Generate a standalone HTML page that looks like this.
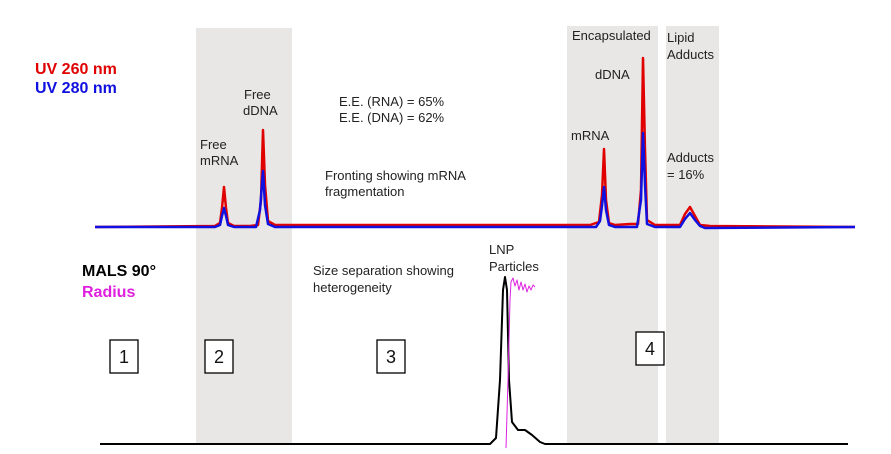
<!DOCTYPE html>
<html><head><style>
body{margin:0;background:#fff}
svg text{font-family:"Liberation Sans",sans-serif}
</style></head><body>
<svg width="891" height="449" viewBox="0 0 891 449" xmlns="http://www.w3.org/2000/svg">
<rect x="196" y="28" width="96" height="416" fill="#e8e7e6"/>
<rect x="567" y="26" width="91" height="418" fill="#e8e7e6"/>
<rect x="666" y="26" width="53" height="418" fill="#e8e7e6"/>
<g fill="none" stroke-linejoin="round">
<path d="M95 227 L215 226 L220 223 L222 208 L224 187 L226 208 L228 223 L234 226 L250 226 L258 225 L261 200 L263 130 L265 185 L268 221 L275 225 L590 225 L599 222 L602 195 L604 149 L606 200 L609 223 L615 225 L630 224 L638 224 L641 190 L643 58 L645 150 L647 220 L655 225 L680 225 L685 214 L690 207 L695 216 L700 225 L710 226 L855 227" stroke="#e00000" stroke-width="2.5"/>
<path d="M95 227 L215 227 L220 225 L222 216 L224 208 L226 216 L228 225 L234 227 L256 227 L260 210 L263 171 L265 205 L268 224 L275 227 L596 227 L600 221 L602 206 L604 187 L606 210 L609 225 L615 227 L637 227 L641 200 L643 133 L645 185 L647 224 L655 227 L680 227 L685 219 L690 213 L695 220 L700 226 L705 228 L855 227" stroke="#1010e0" stroke-width="2.5"/>
<path d="M100 444 L490 444 L496 438 L500 380 L503 290 L505 277 L507 290 L509 380 L512 422 L518 430 L525 430 L532 435 L540 442 L545 444 L848 444" stroke="#000" stroke-width="2"/>
<path d="M506 448 L508 380 L510 300 L511 282 L513 278 L515 286 L517 280 L519 290 L521 282 L523 290 L525 284 L527 292 L529 286 L531 290 L533 285 L535 287" stroke="#e020e0" stroke-width="1"/>
</g>
<text x="35" y="74" font-size="16" font-weight="bold" fill="#e00000">UV 260 nm</text>
<text x="35" y="93" font-size="16" font-weight="bold" fill="#1010e0">UV 280 nm</text>
<text x="82" y="276" font-size="16" font-weight="bold" fill="#000">MALS 90°</text>
<text x="82" y="297" font-size="16" font-weight="bold" fill="#e020e0">Radius</text>
<g font-size="13" fill="#222">
<text x="200" y="149">Free</text><text x="200" y="165">mRNA</text>
<text x="244" y="99">Free</text><text x="243" y="115">dDNA</text>
<text x="339" y="106">E.E. (RNA) = 65%</text><text x="339" y="122">E.E. (DNA) = 62%</text>
<text x="325" y="180">Fronting showing mRNA</text><text x="325" y="196">fragmentation</text>
<text x="572" y="40">Encapsulated</text>
<text x="595" y="79">dDNA</text>
<text x="571" y="140">mRNA</text>
<text x="667" y="42">Lipid</text><text x="667" y="59">Adducts</text>
<text x="667" y="162">Adducts</text><text x="667" y="179">= 16%</text>
<text x="313" y="275">Size separation showing</text><text x="313" y="292">heterogeneity</text>
<text x="489" y="254">LNP</text><text x="489" y="271">Particles</text>
</g>
<g fill="#fff" stroke="#000" stroke-width="1.3">
<rect x="110" y="340" width="28" height="33"/>
<rect x="205" y="340" width="28" height="33"/>
<rect x="377" y="340" width="28" height="33"/>
<rect x="636" y="332" width="28" height="33"/>
</g>
<g font-size="18" fill="#111" text-anchor="middle">
<text x="124" y="363">1</text><text x="219" y="363">2</text><text x="391" y="363">3</text><text x="650" y="355">4</text>
</g>
</svg>
</body></html>
